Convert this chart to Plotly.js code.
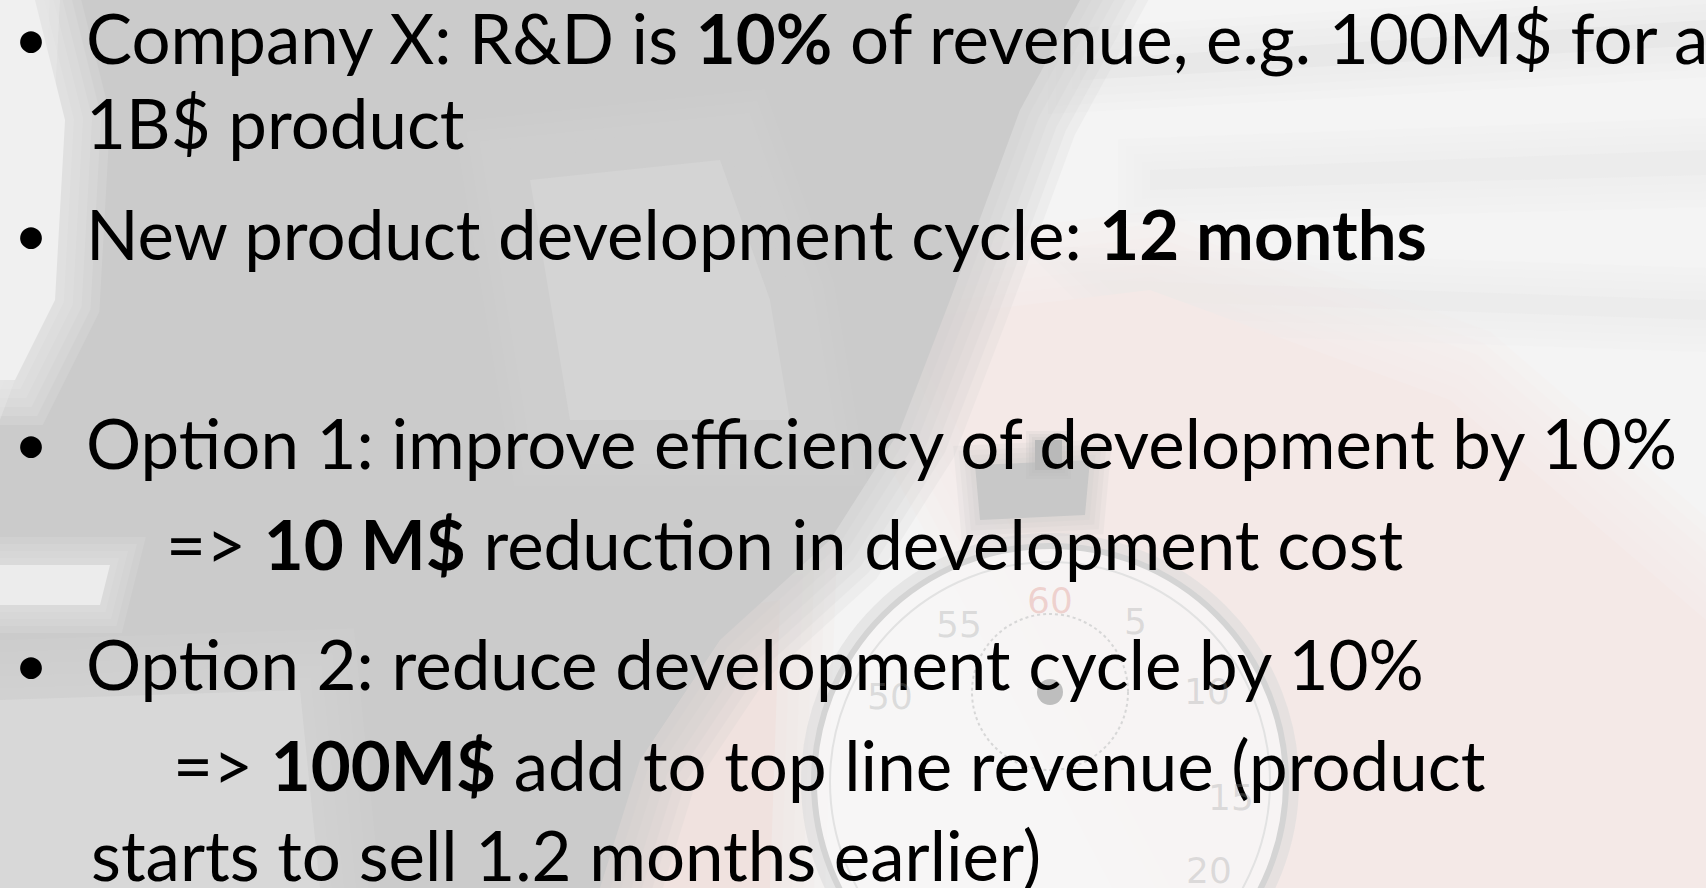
<!DOCTYPE html>
<html>
<head>
<meta charset="utf-8">
<script src="https://cdn.plot.ly/plotly-3.0.1.min.js"></script>
<style>
  html, body { margin: 0; padding: 0; background: #ffffff; }
  #chart { width: 1706px; height: 888px; }
</style>
</head>
<body>
<div id="chart"></div>
<script>
// ---- content (slide text) ----
const lineTexts = [
  "Company X: R&amp;D is <b>10%</b> of revenue, e.g. 100M$ for a",
  "1B$ product",
  "New product development cycle: <b>12 months</b>",
  "Option 1: improve efficiency of development by 10%",
  "=&gt; <b>10 M$</b> reduction in development cost",
  "Option 2: reduce development cycle by 10%",
  "=&gt; <b>100M$</b> add to top line revenue (product",
  "starts to sell 1.2 months earlier)"
];
const lineBullet = [true, false, true, true, false, true, false, false];
const lineIndent = [0, 0, 0, 0, 1, 0, 2, 3];      // indent style id
const lineBaseline = [62, 147, 258, 467, 568, 688, 789, 879];

// stopwatch dial labels (faint background)
const dialLabels = ["60", "55", "5", "50", "10", "15", "20"];
const dialAngles = [0, -30, 28, -62, 60, 95, 119];

// ---- layout constants ----
const W = 1706, H = 888;
const FONT = "Lato, 'Open Sans', sans-serif";
const FS = 69;
const indentX = [84, 164, 171, 89];
const bulletX = 31;
const baseToMid = 0.36 * FS;

const annotations = [];
lineTexts.forEach((t, i) => {
  const yMid = lineBaseline[i] - baseToMid;
  if (lineBullet[i]) {
    annotations.push({
      x: bulletX, y: yMid, xref: 'x', yref: 'y', text: "•",
      showarrow: false, xanchor: 'center', yanchor: 'middle',
      font: {family: FONT, size: FS * 0.85, color: '#000000'}
    });
  }
  annotations.push({
    x: indentX[lineIndent[i]], y: yMid, xref: 'x', yref: 'y', text: t,
    showarrow: false, xanchor: 'left', yanchor: 'middle', align: 'left',
    font: {family: FONT, size: FS, color: '#000000'}
  });
});

// stopwatch geometry
const cx = 1050, cy = 782, r = 236;
dialLabels.forEach((lab, i) => {
  const a = dialAngles[i] * Math.PI / 180;
  const rr = r * 0.77;
  annotations.push({
    x: cx + rr * Math.sin(a), y: cy - rr * Math.cos(a), xref: 'x', yref: 'y',
    text: lab, showarrow: false, xanchor: 'center', yanchor: 'middle',
    font: {family: "'DejaVu Sans', sans-serif", size: 36,
           color: lab === "60" ? 'rgba(215,120,110,0.28)' : 'rgba(150,150,150,0.28)'}
  });
});

// ---- background shapes (soft edges via layered halos) ----
const shapes = [];
function soft(path, color, steps, spread) {
  for (let k = steps; k >= 1; k--) {
    shapes.push({
      type: 'path', xref: 'x', yref: 'y', path: path,
      fillcolor: color, line: {width: spread * k, color: color},
      opacity: 0.16, layer: 'below'
    });
  }
  shapes.push({type: 'path', xref: 'x', yref: 'y', path: path,
    fillcolor: color, line: {width: 0}, opacity: 1, layer: 'below'});
}
// base
shapes.push({type:'rect', xref:'x', yref:'y', x0:0, y0:0, x1:W, y1:H,
  fillcolor:'#f4f4f4', line:{width:0}, layer:'below'});
// faint grey streaks top right
soft("M 1080 60 L 1706 20 L 1706 45 L 1080 80 Z", 'rgba(232,232,232,1)', 4, 16);
soft("M 1150 170 L 1706 150 L 1706 175 L 1150 190 Z", 'rgba(236,236,236,1)', 4, 16);
soft("M 1100 280 L 1706 300 L 1706 320 L 1120 300 Z", 'rgba(236,236,236,1)', 4, 16);
// pinkish hand
soft("M 900 320 L 1150 290 L 1450 400 L 1706 620 L 1706 888 L 1200 888 L 1050 600 Z",
     'rgba(244,233,231,1)', 6, 26);
soft("M 540 640 L 780 600 L 770 888 L 560 888 Z", 'rgba(240,226,223,1)', 5, 22);
// large grey shape (left)
soft("M 60 0 L 1080 0 L 1020 110 L 950 300 L 900 430 L 830 540 L 720 640 L 640 760 L 600 888 L 0 888 L 0 420 L 45 300 Z",
     'rgba(203,203,203,1)', 6, 20);
// lighter patch inside
soft("M 530 180 L 720 160 L 770 300 L 790 420 L 570 420 Z", 'rgba(212,212,212,1)', 6, 22);
// white glow at left edge
soft("M 0 0 L 35 0 L 65 120 L 55 300 L 15 380 L 0 380 Z", 'rgba(240,240,240,1)', 5, 18);
// lighter stripe lower-left
soft("M 0 565 L 110 565 L 100 605 L 0 605 Z", 'rgba(236,236,236,1)', 4, 14);
soft("M 0 700 L 300 690 L 320 888 L 0 888 Z", 'rgba(216,216,216,1)', 5, 24);
// stopwatch body
shapes.push({type:'circle', xref:'x', yref:'y', x0:cx-r-6, y0:cy-r-6, x1:cx+r+6, y1:cy+r+6,
  fillcolor:'rgba(0,0,0,0)', line:{width:14, color:'rgba(220,220,220,0.6)'}, layer:'below'});
shapes.push({type:'circle', xref:'x', yref:'y', x0:cx-r, y0:cy-r, x1:cx+r, y1:cy+r,
  fillcolor:'rgba(247,246,246,0.85)', line:{width:6, color:'rgba(212,212,212,1)'}, layer:'below'});
shapes.push({type:'circle', xref:'x', yref:'y', x0:cx-r+16, y0:cy-r+16, x1:cx+r-16, y1:cy+r-16,
  fillcolor:'rgba(0,0,0,0)', line:{width:2, color:'rgba(226,226,226,1)'}, layer:'below'});
// stopwatch crown / button
soft("M 975 465 L 1090 460 L 1085 515 L 980 520 Z", 'rgba(200,200,200,1)', 4, 10);
soft("M 1035 440 L 1062 440 L 1062 470 L 1035 470 Z", 'rgba(185,185,185,1)', 3, 6);
// small inner dial
shapes.push({type:'circle', xref:'x', yref:'y', x0:cx-78, y0:cy-168, x1:cx+78, y1:cy-12,
  fillcolor:'rgba(0,0,0,0)', line:{width:2, color:'rgba(215,215,215,1)', dash:'dot'}, layer:'below'});
shapes.push({type:'circle', xref:'x', yref:'y', x0:cx-13, y0:cy-103, x1:cx+13, y1:cy-77,
  fillcolor:'rgba(190,190,190,1)', line:{width:0}, layer:'below'});

const layout = {
  width: W, height: H,
  margin: {l:0, r:0, t:0, b:0, pad:0},
  paper_bgcolor: '#f4f4f4', plot_bgcolor: 'rgba(0,0,0,0)',
  showlegend: false,
  xaxis: {range:[0, W], visible:false, fixedrange:true},
  yaxis: {range:[H, 0], visible:false, fixedrange:true},
  annotations: annotations,
  shapes: shapes
};

Plotly.newPlot('chart', [{x:[], y:[], type:'scatter', mode:'markers', hoverinfo:'skip'}], layout,
  {displayModeBar:false, staticPlot:true});
</script>
</body>
</html>
